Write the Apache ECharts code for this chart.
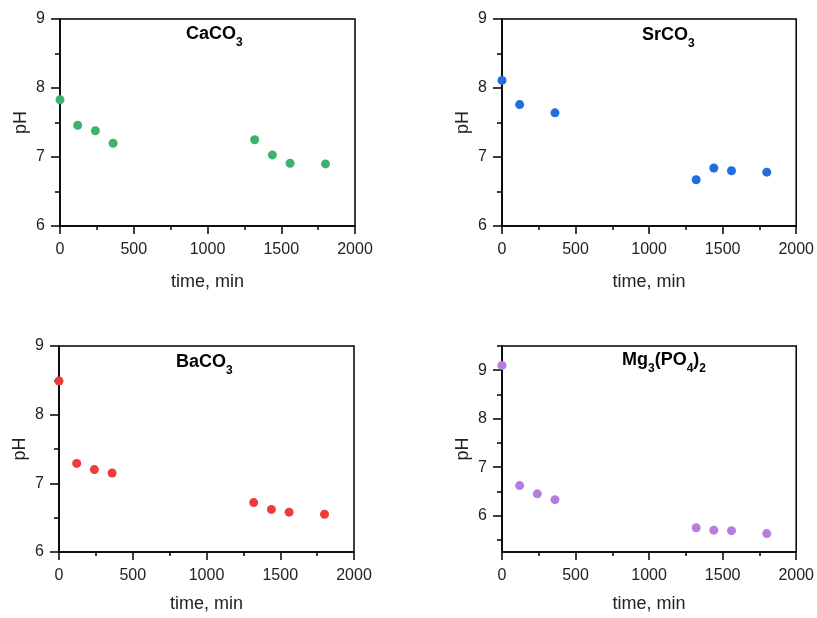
<!DOCTYPE html>
<html>
<head>
<meta charset="utf-8">
<script src="https://cdn.jsdelivr.net/npm/echarts@6/dist/echarts.min.js"></script>
<style>
html,body{margin:0;padding:0;background:#fff;}
#c{width:817px;height:618px;}
</style>
</head>
<body>
<div id="c"></div>
<script>
// Data
const timeAll = [0, 120, 240, 360, 1320, 1440, 1560, 1800];
const timeSr = [0, 120, 360, 1320, 1440, 1560, 1800];
const phCa = [7.83, 7.46, 7.38, 7.20, 7.25, 7.03, 6.91, 6.90];
const phSr = [8.11, 7.76, 7.64, 6.67, 6.84, 6.80, 6.78];
const phBa = [8.49, 7.29, 7.20, 7.15, 6.72, 6.62, 6.58, 6.55];
const phMg = [9.10, 6.62, 6.45, 6.33, 5.75, 5.70, 5.69, 5.63];
const xTicks = [0, 500, 1000, 1500, 2000];
const yTicksMg = [6, 7, 8, 9];
const yMinorMg = [5.5, 6.5, 7.5, 8.5, 9.5];

const FONT = 'Liberation Sans, Arial, sans-serif';
const colors = ['#3db26f', '#1f6fdb', '#ee3b3b', '#b47de3'];

function pairs(xs, ys) { return xs.map((x, i) => [x, ys[i]]); }

const grids = [
  {left: 60, top: 19, width: 295, height: 207},
  {left: 502, top: 19, width: 296, height: 207},
  {left: 59, top: 346, width: 295, height: 206},
  {left: 502, top: 346, width: 296, height: 206}
].map(g => Object.assign({show: true, borderColor: '#000', borderWidth: 1.5, backgroundColor: 'transparent'}, g));

const lineStyle = {color: '#000', width: 1.5};
const plain = v => String(v);
function xAxisFor(i, gap) {
  return {
    gridIndex: i, type: 'value', min: 0, max: 2000, interval: 500,
    axisLine: {show: true, lineStyle: lineStyle},
    axisTick: {show: true, length: 8, lineStyle: lineStyle},
    minorTick: {show: true, splitNumber: 2, length: 4, lineStyle: lineStyle},
    splitLine: {show: false},
    axisLabel: {fontSize: 16, color: '#222', margin: 16, fontFamily: FONT, formatter: plain, customValues: xTicks},
    name: 'time, min', nameLocation: 'middle', nameGap: gap,
    nameTextStyle: {fontSize: 18, color: '#222', fontFamily: FONT}
  };
}
function yAxisFor(i, extra) {
  return Object.assign({
    gridIndex: i, type: 'value', min: 6, max: 9, interval: 1,
    axisLine: {show: true, lineStyle: lineStyle},
    axisTick: {show: true, length: 9, lineStyle: lineStyle},
    minorTick: {show: true, splitNumber: 2, length: 5, lineStyle: lineStyle},
    splitLine: {show: false},
    axisLabel: {fontSize: 16, color: '#222', margin: 15, fontFamily: FONT, formatter: plain},
    name: 'pH', nameLocation: 'middle', nameGap: 30,
    nameTextStyle: {fontSize: 18, color: '#222', fontFamily: FONT}
  }, extra || {});
}

const yAxes = [
  yAxisFor(0), yAxisFor(1), yAxisFor(2),
  yAxisFor(3, {
    min: 5.25, max: 9.5,
    minorTick: {show: false},
    axisTick: {show: true, length: 9, lineStyle: lineStyle, customValues: yTicksMg},
    axisLabel: {fontSize: 16, color: '#222', margin: 15, fontFamily: FONT, formatter: plain, customValues: yTicksMg}
  }),
  {
    gridIndex: 3, type: 'value', min: 5.25, max: 9.5, position: 'left',
    axisLine: {show: false}, axisLabel: {show: false}, splitLine: {show: false},
    axisTick: {show: true, length: 5, lineStyle: lineStyle, customValues: yMinorMg}
  }
];
delete yAxes[3].interval;

const rich = {
  b: {fontSize: 18, fontWeight: 'bold', color: '#000', fontFamily: FONT, verticalAlign: 'bottom', padding: [0, 0, 6, 0]},
  s: {fontSize: 12, fontWeight: 'bold', color: '#000', fontFamily: FONT, verticalAlign: 'bottom'}
};
function title(text, left, top) {
  return {text: text, left: left, top: top, padding: 0, textStyle: {rich: rich}};
}

const option = {
  animation: false,
  backgroundColor: '#fff',
  title: [
    title('{b|CaCO}{s|3}', 186, 25),
    title('{b|SrCO}{s|3}', 642, 26),
    title('{b|BaCO}{s|3}', 176, 353),
    title('{b|Mg}{s|3}{b|(PO}{s|4}{b|)}{s|2}', 622, 351)
  ],
  grid: grids,
  xAxis: [xAxisFor(0, 47), xAxisFor(1, 47), xAxisFor(2, 43), xAxisFor(3, 43)],
  yAxis: yAxes,
  series: [
    {type: 'scatter', xAxisIndex: 0, yAxisIndex: 0, data: pairs(timeAll, phCa)},
    {type: 'scatter', xAxisIndex: 1, yAxisIndex: 1, data: pairs(timeSr, phSr)},
    {type: 'scatter', xAxisIndex: 2, yAxisIndex: 2, data: pairs(timeAll, phBa)},
    {type: 'scatter', xAxisIndex: 3, yAxisIndex: 3, data: pairs(timeAll, phMg)}
  ].map((s, i) => Object.assign(s, {symbol: 'circle', symbolSize: 9, itemStyle: {color: colors[i], opacity: 1}}))
};

const chart = echarts.init(document.getElementById('c'), null, {renderer: 'canvas'});
chart.setOption(option);
</script>
</body>
</html>
